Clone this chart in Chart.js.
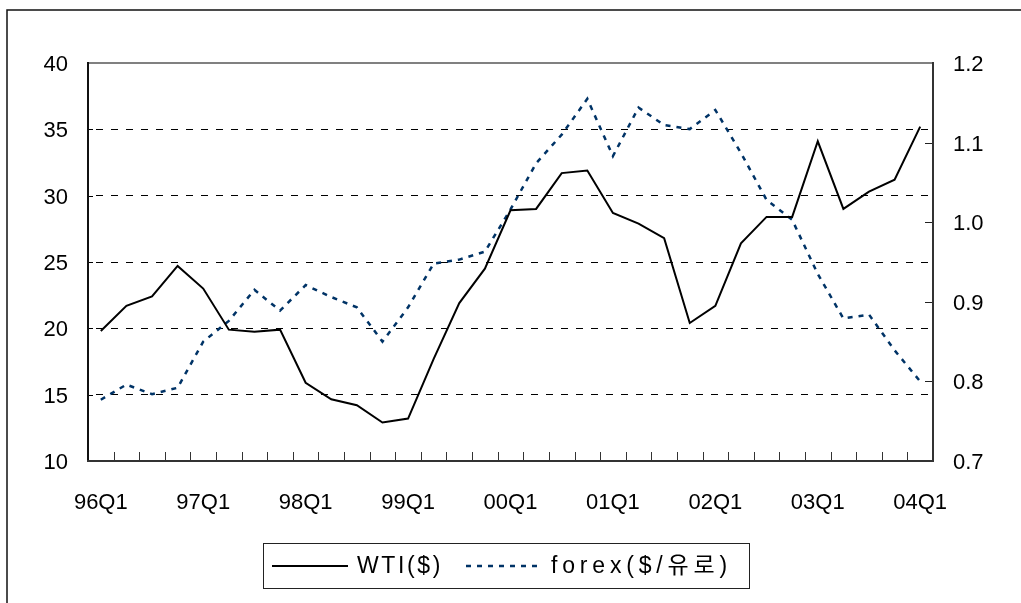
<!DOCTYPE html>
<html><head><meta charset="utf-8">
<script src="https://cdn.jsdelivr.net/npm/chart.js@4"></script>
<style>html,body{margin:0;padding:0;background:#fff}#wrap{width:1021px;height:603px;position:relative}</style>
</head><body><div id="wrap"><canvas id="c" width="1021" height="603"></canvas></div>
<script>
// ---- data ----
const quarters = ['96Q1','96Q2','96Q3','96Q4','97Q1','97Q2','97Q3','97Q4','98Q1','98Q2','98Q3','98Q4',
  '99Q1','99Q2','99Q3','99Q4','00Q1','00Q2','00Q3','00Q4','01Q1','01Q2','01Q3','01Q4',
  '02Q1','02Q2','02Q3','02Q4','03Q1','03Q2','03Q3','03Q4','04Q1'];
const xTickLabels = ['96Q1','97Q1','98Q1','99Q1','00Q1','01Q1','02Q1','03Q1','04Q1'];
const leftTicks = [10,15,20,25,30,35,40];
const rightTicks = [0.7,0.8,0.9,1.0,1.1,1.2];
const wti = [19.8,21.7,22.4,24.7,23.0,19.9,19.75,19.9,15.9,14.65,14.2,12.9,13.2,17.7,21.9,24.5,
  28.9,29.0,31.7,31.9,28.7,27.9,26.8,20.4,21.7,26.4,28.4,28.4,34.1,29.0,30.3,31.2,35.2];
const forex = [0.777,0.796,0.784,0.792,0.850,0.876,0.915,0.889,0.921,0.906,0.893,0.850,0.893,0.948,0.953,0.963,
  1.016,1.074,1.110,1.155,1.083,1.144,1.122,1.117,1.141,1.087,1.028,1.003,0.935,0.879,0.884,0.839,0.800];
const seriesNames = ['WTI($)','forex($/유로)'];

const FONT = '"Liberation Sans", Arial, "Noto Sans CJK KR", sans-serif';

const framePlugin = {
  id: 'frame',
  beforeDraw(chart) {
    const ctx = chart.ctx;
    ctx.save();
    ctx.strokeStyle = '#111'; ctx.lineWidth = 1.5;
    ctx.beginPath();
    ctx.moveTo(7, chart.height); ctx.lineTo(7, 10); ctx.lineTo(chart.width, 10);
    ctx.stroke();
    ctx.restore();
  },
  afterDraw(chart) {
    const {ctx, chartArea: a, scales} = chart;
    ctx.save();
    ctx.lineWidth = 1; ctx.strokeStyle = '#000';
    scales.y.ticks.forEach((t, i) => {
      const y = Math.round(scales.y.getPixelForTick(i)) + 0.5;
      ctx.beginPath(); ctx.moveTo(a.left, y); ctx.lineTo(a.left + 5, y); ctx.stroke();
    });
    ctx.strokeStyle = '#222';
    scales.y1.ticks.forEach((t, i) => {
      const y = Math.round(scales.y1.getPixelForTick(i)) + 0.5;
      ctx.beginPath(); ctx.moveTo(a.right - 8, y); ctx.lineTo(a.right, y); ctx.stroke();
    });
    const xs = scales.x;
    const step = xs.getPixelForValue(1) - xs.getPixelForValue(0);
    ctx.strokeStyle = '#333';
    for (let i = 1; i < quarters.length; i++) {
      const x = Math.round(xs.getPixelForValue(i) - step / 2) + 0.5;
      ctx.beginPath(); ctx.moveTo(x, a.bottom); ctx.lineTo(x, a.bottom - 9); ctx.stroke();
    }
    ctx.lineWidth = 2;
    ctx.strokeStyle = '#808080';
    ctx.beginPath(); ctx.moveTo(a.left, a.top); ctx.lineTo(a.right, a.top); ctx.stroke();
    ctx.strokeStyle = '#111';
    ctx.beginPath(); ctx.moveTo(a.left, a.top - 1); ctx.lineTo(a.left, a.bottom + 1); ctx.stroke();
    ctx.strokeStyle = '#333';
    ctx.beginPath(); ctx.moveTo(a.left - 1, a.bottom); ctx.lineTo(a.right + 1, a.bottom); ctx.stroke();
    ctx.beginPath(); ctx.moveTo(a.right, a.top - 1); ctx.lineTo(a.right, a.bottom + 1); ctx.stroke();
    ctx.restore();
  }
};

const legendPlugin = {
  id: 'boxLegend',
  afterDraw(chart) {
    const ctx = chart.ctx;
    const box = {left: 263, top: 543, right: 749, bottom: 588};
    const cy = 566;
    const targets = [86, 181];
    ctx.save();
    ctx.strokeStyle = '#222'; ctx.lineWidth = 1;
    ctx.strokeRect(box.left + 0.5, box.top + 0.5, box.right - box.left, box.bottom - box.top);
    ctx.font = '23px ' + FONT;
    ctx.textBaseline = 'middle';
    ctx.textAlign = 'left';
    ctx.fillStyle = '#000';
    let x = box.left + 9;
    chart.data.datasets.forEach((ds, i) => {
      ctx.save();
      ctx.strokeStyle = ds.borderColor;
      ctx.lineWidth = ds.borderWidth;
      ctx.setLineDash(ds.borderDash || []);
      ctx.beginPath(); ctx.moveTo(x, cy); ctx.lineTo(x + 76, cy); ctx.stroke();
      ctx.restore();
      x += 76 + 9;
      const txt = ds.label;
      ctx.letterSpacing = '0px';
      const nat = ctx.measureText(txt).width;
      const n = [...txt].length;
      const ls = Math.max(0, (targets[i] - nat) / n);
      ctx.letterSpacing = ls + 'px';
      ctx.fillText(txt, x, cy + 1);
      ctx.letterSpacing = '0px';
      x += targets[i] + 23;
    });
    ctx.restore();
  }
};

new Chart(document.getElementById('c'), {
  type: 'line',
  data: {
    labels: quarters,
    datasets: [
      {label: seriesNames[0], data: wti, yAxisID: 'y', borderColor: '#000', borderWidth: 2,
       pointRadius: 0, tension: 0, fill: false},
      {label: seriesNames[1], data: forex, yAxisID: 'y1', borderColor: '#003366', borderWidth: 2.5,
       borderDash: [5, 6], pointRadius: 0, tension: 0, fill: false}
    ]
  },
  options: {
    responsive: false, animation: false, devicePixelRatio: 1,
    layout: {padding: {top: 63, bottom: 82, left: 0, right: 0}},
    plugins: {legend: {display: false}, tooltip: {enabled: false}, title: {display: false}},
    scales: {
      x: {
        type: 'category', offset: true,
        grid: {display: false}, border: {display: false},
        ticks: {autoSkip: false, maxRotation: 0, minRotation: 0, padding: 21, color: '#000',
          font: {family: FONT, size: 22},
          callback(v) { const l = this.getLabelForValue(v); return xTickLabels.includes(l) ? l : ''; }},
        afterFit(s) { s.height = 60; }
      },
      y: {
        position: 'left', min: 10, max: 40,
        afterBuildTicks(s) { s.ticks = leftTicks.map(v => ({value: v})); },
        ticks: {padding: 20, labelOffset: 2, color: '#000', font: {family: FONT, size: 22}},
        grid: {drawTicks: false, lineWidth: 1,
          color: (c) => (c.tick && (c.tick.value === 10 || c.tick.value === 40)) ? 'rgba(0,0,0,0)' : '#000'},
        border: {display: false, dash: [7, 8], dashOffset: 7},
        afterFit(s) { s.width = 88; }
      },
      y1: {
        position: 'right', min: 0.7, max: 1.2,
        afterBuildTicks(s) { s.ticks = rightTicks.map(v => ({value: v})); },
        ticks: {padding: 20, labelOffset: 2, color: '#000', font: {family: FONT, size: 22},
          callback: (v) => Number(v).toFixed(1)},
        grid: {display: false, drawTicks: false},
        border: {display: false},
        afterFit(s) { s.width = 88; }
      }
    }
  },
  plugins: [framePlugin, legendPlugin]
});
</script>
</body></html>
